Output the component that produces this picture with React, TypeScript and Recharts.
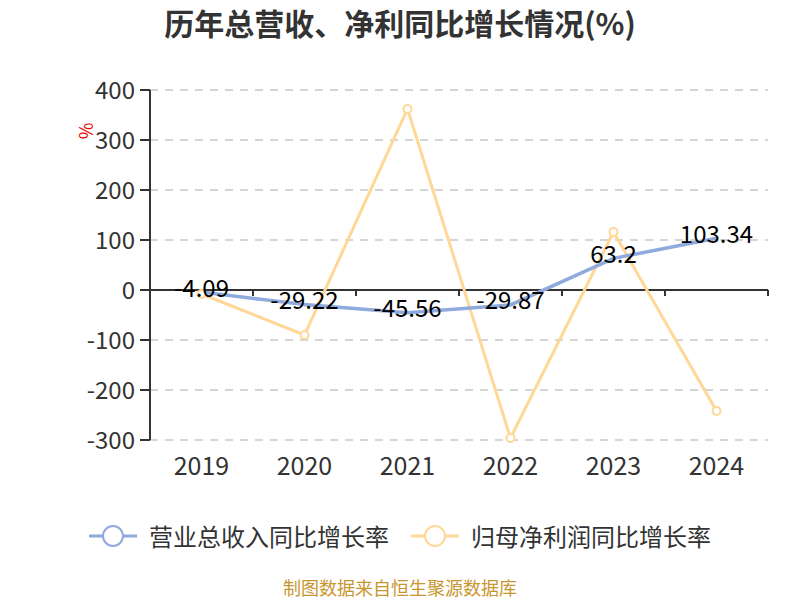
import React from "react";
import {
  CartesianGrid,
  LabelList,
  Legend,
  Line,
  LineChart,
  ReferenceLine,
  XAxis,
  YAxis,
} from "recharts";

const years = ["2019", "2020", "2021", "2022", "2023", "2024"];
const revenueGrowth = [-4.09, -29.22, -45.56, -29.87, 63.2, 103.34];
const profitGrowth = [-8, -90, 362, -296, 116, -242];
const yTicks = [-300, -200, -100, 0, 100, 200, 300, 400];

const revenueName = "营业总收入同比增长率";
const profitName = "归母净利润同比增长率";

const BLUE = "#8FAADC";
const YELLOW = "#FFD797";
const FONT = "'Noto Sans CJK SC', 'Noto Sans', sans-serif";

const data = years.map((year, i) => ({
  year,
  revenue: revenueGrowth[i],
  profit: profitGrowth[i],
}));

function ZeroAxis(props: any) {
  const { x1, x2, y1 } = props;
  const step = (x2 - x1) / years.length;
  const ticks = [];
  for (let i = 0; i <= years.length; i++) {
    const x = x1 + i * step;
    ticks.push(<line key={i} x1={x} x2={x} y1={y1} y2={y1 + 6} stroke="#333" strokeWidth={2} />);
  }
  return (
    <g>
      <line x1={x1} x2={x2} y1={y1} y2={y1} stroke="#333" strokeWidth={2} />
      {ticks}
    </g>
  );
}

function LegendContent() {
  const items = [
    { name: revenueName, color: BLUE },
    { name: profitName, color: YELLOW },
  ];
  return (
    <div style={{ display: "flex", justifyContent: "center", gap: 22, fontFamily: FONT }}>
      {items.map((item) => (
        <div key={item.name} style={{ display: "flex", alignItems: "center" }}>
          <svg width={48} height={26} style={{ marginRight: 12 }}>
            <line x1={0} x2={48} y1={13} y2={13} stroke={item.color} strokeWidth={3} />
            <circle cx={24} cy={13} r={10} fill="#fff" stroke={item.color} strokeWidth={2} />
          </svg>
          <span style={{ fontSize: 24, color: "#333" }}>{item.name}</span>
        </div>
      ))}
    </div>
  );
}

function ValueLabel(props: any) {
  const { x, y, value } = props;
  return (
    <text
      x={x}
      y={y - 2}
      textAnchor="middle"
      dominantBaseline="middle"
      fontSize={24}
      fill="#000"
      fontFamily={FONT}
    >
      {value}
    </text>
  );
}

export default function App() {
  return (
    <div
      style={{
        position: "absolute",
        left: 0,
        top: 0,
        width: 800,
        height: 600,
        background: "#fff",
        fontFamily: FONT,
        overflow: "hidden",
      }}
    >
      <div
        style={{
          position: "absolute",
          top: 2,
          width: 800,
          textAlign: "center",
          fontSize: 30,
          lineHeight: "40px",
          fontWeight: "bold",
          color: "#333",
        }}
      >
        历年总营收、净利同比增长情况(%)
      </div>
      <LineChart
        width={800}
        height={600}
        data={data}
        margin={{ top: 90, right: 32, left: 0, bottom: 130 }}
      >
        <CartesianGrid
          vertical={false}
          stroke="#c8c8c8"
          strokeDasharray="8 7"
          strokeWidth={1.5}
        />
        <XAxis
          dataKey="year"
          scale="band"
          axisLine={false}
          tickLine={false}
          tickSize={6}
          tickMargin={11}
          height={30}
          tick={{ fontSize: 25, fill: "#333", fontFamily: FONT }}
        />
        <YAxis
          type="number"
          domain={[-300, 400]}
          ticks={yTicks}
          width={150}
          interval={0}
          axisLine={{ stroke: "#333", strokeWidth: 2 }}
          tickLine={{ stroke: "#333", strokeWidth: 2 }}
          tickSize={10}
          tickMargin={5}
          tick={{ fontSize: 24, fill: "#333", fontFamily: FONT }}
          label={{
            value: "%",
            content: (p: any) => (
              <text
                x={p.viewBox.x + 88}
                y={p.viewBox.y + 41}
                transform={`rotate(-90 ${p.viewBox.x + 88} ${p.viewBox.y + 41})`}
                textAnchor="middle"
                dominantBaseline="middle"
                fontSize={18}
                fill="#e00"
                fontFamily={FONT}
              >
                %
              </text>
            ),
          }}
        />
        <ReferenceLine y={0} shape={ZeroAxis} />
        <Line
          dataKey="profit"
          name={profitName}
          stroke={YELLOW}
          strokeWidth={3}
          dot={{ r: 4, fill: "#fff", stroke: YELLOW, strokeWidth: 2 }}
          isAnimationActive={false}
        />
        <Line
          dataKey="revenue"
          name={revenueName}
          stroke={BLUE}
          strokeWidth={3.5}
          dot={false}
          isAnimationActive={false}
        >
          <LabelList dataKey="revenue" content={ValueLabel} />
        </Line>
        <Legend
          verticalAlign="middle"
          align="center"
          wrapperStyle={{ top: 518, left: 0, width: 800 }}
          content={LegendContent}
        />
      </LineChart>
      <div
        style={{
          position: "absolute",
          top: 576,
          width: 800,
          textAlign: "center",
          fontSize: 18,
          lineHeight: "22px",
          color: "#C8962E",
        }}
      >
        制图数据来自恒生聚源数据库
      </div>
    </div>
  );
}
